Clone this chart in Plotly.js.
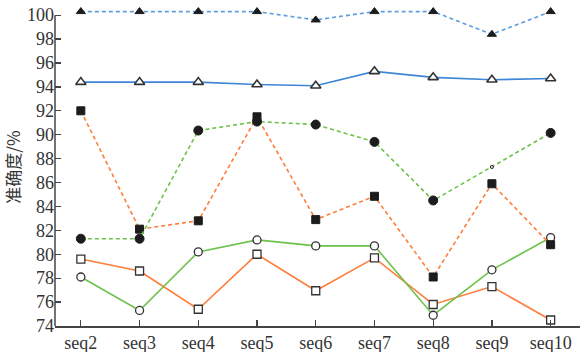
<!DOCTYPE html>
<html>
<head>
<meta charset="utf-8">
<script src="https://cdn.plot.ly/plotly-3.0.1.min.js"></script>
<style>html,body{margin:0;padding:0;background:#fff;}#chart{width:582px;height:352px;}</style>
</head>
<body>
<div id="chart"></div>
<script>
const categories = ["seq2","seq3","seq4","seq5","seq6","seq7","seq8","seq9","seq10"];
const blueDashed  = [100.3, 100.3, 100.3, 100.3, 99.6, 100.3, 100.3, 98.4, 100.3];
const blueSolid   = [94.4, 94.4, 94.4, 94.2, 94.1, 95.3, 94.8, 94.6, 94.7];
const orangeDashed= [92.0, 82.1, 82.8, 91.5, 82.9, 84.85, 78.1, 85.9, 80.8];
const greenDashed = [81.3, 81.3, 90.35, 91.1, 90.85, 89.4, 84.5, 87.3, 90.15];
const greenSolid  = [78.1, 75.3, 80.2, 81.2, 80.7, 80.7, 74.9, 78.7, 81.4];
const orangeSolid = [79.6, 78.6, 75.4, 80.0, 76.95, 79.7, 75.8, 77.3, 74.5];
const yTicks = [74,76,78,80,82,84,86,88,90,92,94,96,98,100];

const BLUE = '#3f86d6', LBLUE = '#5e9ee0', ORANGE = '#ff7d3b', GREEN = '#6cc24a', DARK = '#1c1c1c';
const DASH = '4px,3px';
const SERIF = 'Liberation Serif';

function tr(y, color, dash, symbol, filled, sizes, fills) {
  return {
    x: categories, y: y, type: 'scatter', mode: 'lines+markers',
    line: {color: color, width: 1.6, dash: dash},
    marker: {symbol: symbol, size: sizes || 8, opacity: 1,
      color: fills || (filled ? DARK : '#fff'),
      line: {color: filled ? DARK : '#333', width: filled ? 1 : 1.3}},
    cliponaxis: false, showlegend: false, hoverinfo: 'skip'
  };
}

const data = [
  tr(blueDashed, LBLUE, DASH, 'triangle-up', true),
  tr(blueSolid, BLUE, 'solid', 'triangle-up', false),
  tr(orangeSolid, ORANGE, 'solid', 'square', false),
  tr(greenSolid, GREEN, 'solid', 'circle', false),
  tr(orangeDashed, ORANGE, DASH, 'square', true),
  tr(greenDashed, GREEN, DASH, 'circle', true,
     [9,9,9,9,9,9,9,3,9], [DARK,DARK,DARK,DARK,DARK,DARK,DARK,'#fff',DARK])
];
data[1].marker.size = 9;
data[1].marker.line.width = 1.6;

const layout = {
  width: 582, height: 352,
  margin: {l: 55, r: 2, t: 8, b: 26},
  paper_bgcolor: '#fff', plot_bgcolor: '#fff',
  font: {family: SERIF, size: 18, color: '#333'},
  xaxis: {
    type: 'category', range: [-0.44, 8.5],
    showgrid: false, zeroline: false,
    showline: true, linecolor: '#444', linewidth: 1.5,
    ticks: 'inside', ticklen: 6, tickwidth: 1.3, tickcolor: '#444',
    tickfont: {family: SERIF, size: 18, color: '#333'}
  },
  yaxis: {
    range: [74, 100.6], tickvals: yTicks, ticktext: yTicks.map(String),
    showgrid: false, zeroline: false, showline: false,
    ticks: 'inside', ticklen: 6, tickwidth: 1.3, tickcolor: '#444',
    tickfont: {family: SERIF, size: 18, color: '#333'},
    title: {text: '准确度/%', standoff: 6,
      font: {family: 'Noto Sans CJK SC', size: 17, color: '#333'}}
  },
  shapes: [{type: 'line', xref: 'paper', yref: 'y', x0: 0, x1: 0, y0: 74, y1: 100,
    line: {color: '#444', width: 1.5}}]
};

Plotly.newPlot('chart', data, layout, {displayModeBar: false, staticPlot: true});
</script>
</body>
</html>
